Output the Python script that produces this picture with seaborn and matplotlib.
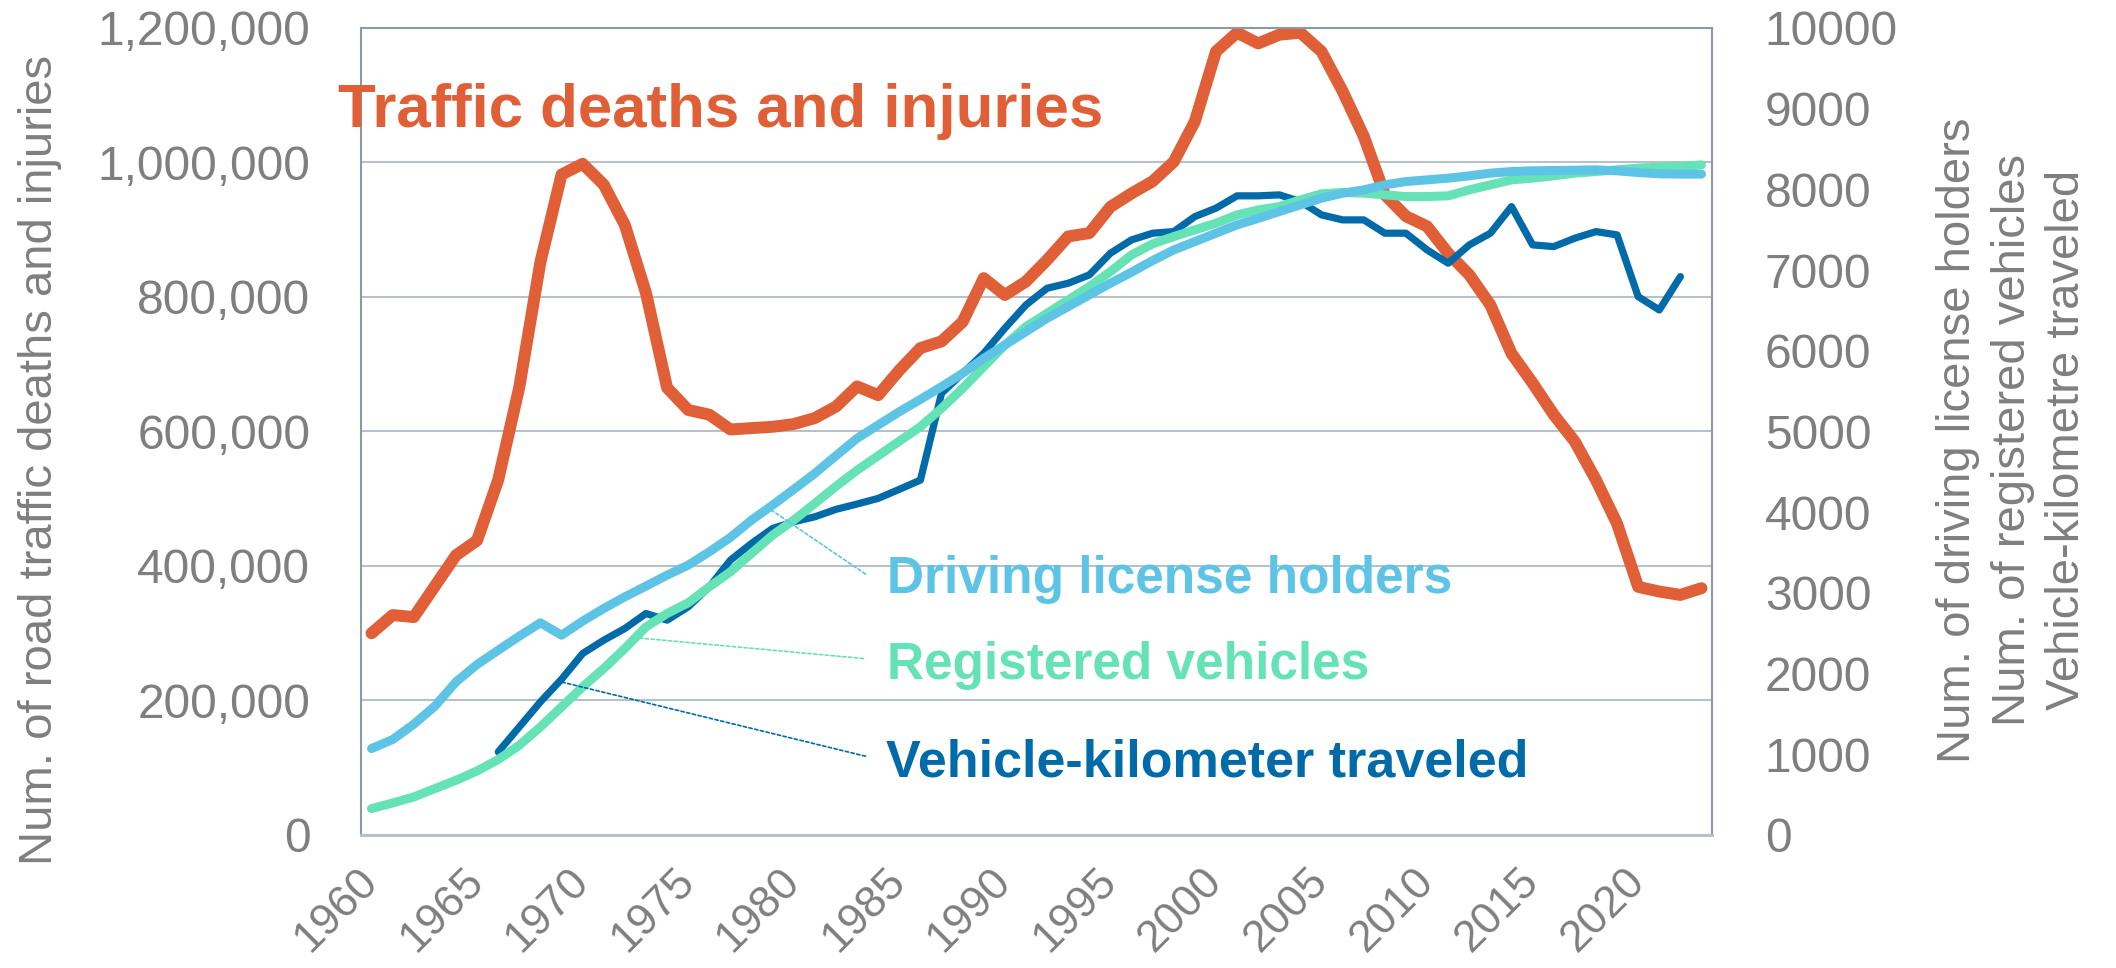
import matplotlib
matplotlib.use("Agg")
import matplotlib.pyplot as plt
from matplotlib.ticker import FuncFormatter
import numpy as np
import pandas as pd
import seaborn as sns

# Data
years = list(range(1960, 2024))

# left axis: persons
deaths_injuries = [
    300000, 327000, 324000, 370000, 416000, 438000, 528000, 666000, 852000, 982000,
    998000, 967000, 907000, 806000, 665000, 632000, 625000, 603000, 605000, 607000,
    611000, 620000, 637000, 667000, 654000, 691000, 724000, 734000, 763000, 828000,
    803000, 823000, 855000, 890000, 895000, 934000, 954000, 972000, 1001000, 1061000,
    1165000, 1193000, 1177000, 1190000, 1193000, 1165000, 1106000, 1039000, 952000, 920000,
    905000, 865000, 833000, 788000, 716000, 672000, 625000, 585000, 528000, 463000,
    369000, 362000, 357000, 367000,
]

# right axis
license_holders = [
    1071, 1183, 1373, 1596, 1897, 2113, 2290, 2464, 2629, 2476,
    2650, 2807, 2951, 3084, 3220, 3344, 3509, 3688, 3902, 4088,
    4283, 4481, 4700, 4915, 5080, 5245, 5398, 5555, 5721, 5907,
    6072, 6237, 6403, 6547, 6692, 6837, 6974, 7118, 7250, 7353,
    7457, 7560, 7640, 7725, 7808, 7891, 7953, 7994, 8056, 8097,
    8118, 8139, 8168, 8201, 8221, 8230, 8234, 8238, 8242, 8230,
    8209, 8193, 8189, 8189,
]

registered_vehicles = [
    327, 397, 471, 575, 678, 794, 935, 1112, 1339, 1587,
    1835, 2063, 2311, 2579, 2745, 2877, 3075, 3261, 3489, 3716,
    3902, 4109, 4320, 4520, 4700, 4880, 5059, 5287, 5535, 5803,
    6072, 6299, 6465, 6630, 6795, 6981, 7188, 7325, 7415, 7498,
    7581, 7684, 7745, 7787, 7870, 7945, 7961, 7953, 7932, 7911,
    7911, 7920, 7994, 8056, 8118, 8139, 8168, 8201, 8221, 8242,
    8263, 8276, 8283, 8304,
]

vkm_years = list(range(1966, 2023))
vehicle_km = [
    1029, 1339, 1650, 1930, 2249, 2414, 2559, 2745, 2662, 2827,
    3075, 3406, 3613, 3799, 3881, 3943, 4035, 4101, 4171, 4283,
    4398, 5473, 5721, 5969, 6279, 6568, 6775, 6837, 6940, 7209,
    7374, 7457, 7477, 7663, 7767, 7920, 7920, 7932, 7850, 7684,
    7622, 7622, 7457, 7457, 7250, 7085, 7312, 7457, 7787, 7312,
    7291, 7395, 7477, 7436, 6671, 6506, 6919,
]

year_ticks = list(range(1960, 2021, 5))

RED = "#E05F37"
LIGHT = "#5EC4E5"
GREEN = "#66E2B7"
DARK = "#016BA9"
GRAY_TEXT = "#7F7F7F"
GRID = "#B9C0C9"
FRAME = "#8C9AA7"

sns.set_theme(style="white")
plt.rcParams["font.family"] = ["Liberation Sans", "DejaVu Sans"]

df = pd.DataFrame({
    "year": years,
    "deaths": deaths_injuries,
    "license": license_holders,
    "vehicles": registered_vehicles,
})
df_vkm = pd.DataFrame({"year": vkm_years, "vkm": vehicle_km})

fig = plt.figure(figsize=(21.16, 9.68), dpi=100)
ax = fig.add_axes([0.1706, 0.1374, 0.6385, 0.8337])
ax2 = ax.twinx()

# Lines
line_kw = dict(solid_capstyle="round")
sns.lineplot(data=df, x="year", y="deaths", ax=ax, color=RED, linewidth=8.6, **line_kw)
sns.lineplot(data=df_vkm, x="year", y="vkm", ax=ax2, color=DARK, linewidth=5.2, **line_kw)
sns.lineplot(data=df, x="year", y="vehicles", ax=ax2, color=GREEN, linewidth=6.5, **line_kw)
sns.lineplot(data=df, x="year", y="license", ax=ax2, color=LIGHT, linewidth=6.5, **line_kw)

ax.set_xlim(1959.5, 2023.5)
ax.set_ylim(0, 1200000)
ax2.set_ylim(0, 10000)

# Left axis
ax.set_yticks(range(0, 1200001, 200000))
ax.yaxis.set_major_formatter(FuncFormatter(lambda v, p: f"{v:,.0f}"))
ax.tick_params(axis="y", length=0, pad=36.5, labelsize=34.5, labelcolor=GRAY_TEXT)
ax.yaxis.grid(True, color=GRID, linewidth=1.5)
ax.xaxis.grid(False)

# Right axis
ax2.set_yticks(range(0, 10001, 1000))
ax2.tick_params(axis="y", length=0, pad=38, labelsize=34.5, labelcolor=GRAY_TEXT)
ax2.grid(False)

# X axis: labels centred on the years, tick marks between categories
ax.set_xticks(year_ticks)
ax.set_xticklabels([str(y) for y in year_ticks], rotation=45, ha="right",
                   va="center", rotation_mode="anchor")
ax.tick_params(axis="x", which="major", length=0, pad=29, labelsize=32,
               labelcolor=GRAY_TEXT)
ax.set_xticks([y - 0.5 for y in year_ticks], minor=True)
ax.tick_params(axis="x", which="minor", length=21, width=1.4, color=GRID,
               direction="inout")

for side in ["left", "top", "right"]:
    ax.spines[side].set_color(FRAME)
    ax.spines[side].set_linewidth(1.5)
ax.spines["bottom"].set_color(GRID)
ax.spines["bottom"].set_linewidth(2.2)
for side in ax2.spines:
    ax2.spines[side].set_visible(False)

# Axis titles
ax.set_xlabel("")
ax.set_ylabel("Num. of road traffic deaths and injuries", fontsize=34,
              color=GRAY_TEXT, ha="center", va="center")
ax.yaxis.set_label_coords(-0.2376, 0.4647)
ax2.set_ylabel("Num. of driving license holders\nNum. of registered vehicles\n"
               "Vehicle-kilometre traveled", fontsize=34, color=GRAY_TEXT,
               ha="center", va="center", multialignment="center", linespacing=1.3)
ax2.yaxis.set_label_coords(1.2224, 0.4895)

# Series labels
ax.text(1958.41, 1053000, "Traffic deaths and injuries", fontsize=44.5,
        fontweight="bold", color=RED, ha="left", va="baseline")

ax2.text(1984.4, 2993, "Driving license holders", fontsize=37,
         fontweight="bold", color=LIGHT, va="baseline")
ax2.text(1984.4, 1939, "Registered vehicles", fontsize=37,
         fontweight="bold", color=GREEN, va="baseline")
ax2.text(1984.37, 728, "Vehicle-kilometer traveled", fontsize=37.5,
         fontweight="bold", color=DARK, va="baseline")

# Leader lines
leader = dict(arrowstyle="-", lw=1.2, linestyle=(0, (2, 1.5)), shrinkA=0, shrinkB=0)
ax2.annotate("", xy=(1978.8, np.interp(1978.8, years, license_holders)),
             xytext=(1983.4, 3233), arrowprops=dict(color=LIGHT, **leader))
ax2.annotate("", xy=(1972.5, np.interp(1972.5, years, registered_vehicles)),
             xytext=(1983.3, 2187), arrowprops=dict(color=GREEN, **leader))
ax2.annotate("", xy=(1968.9, np.interp(1968.9, vkm_years, vehicle_km)),
             xytext=(1983.4, 976), arrowprops=dict(color=DARK, **leader))

fig.savefig("out.png", dpi=100)
